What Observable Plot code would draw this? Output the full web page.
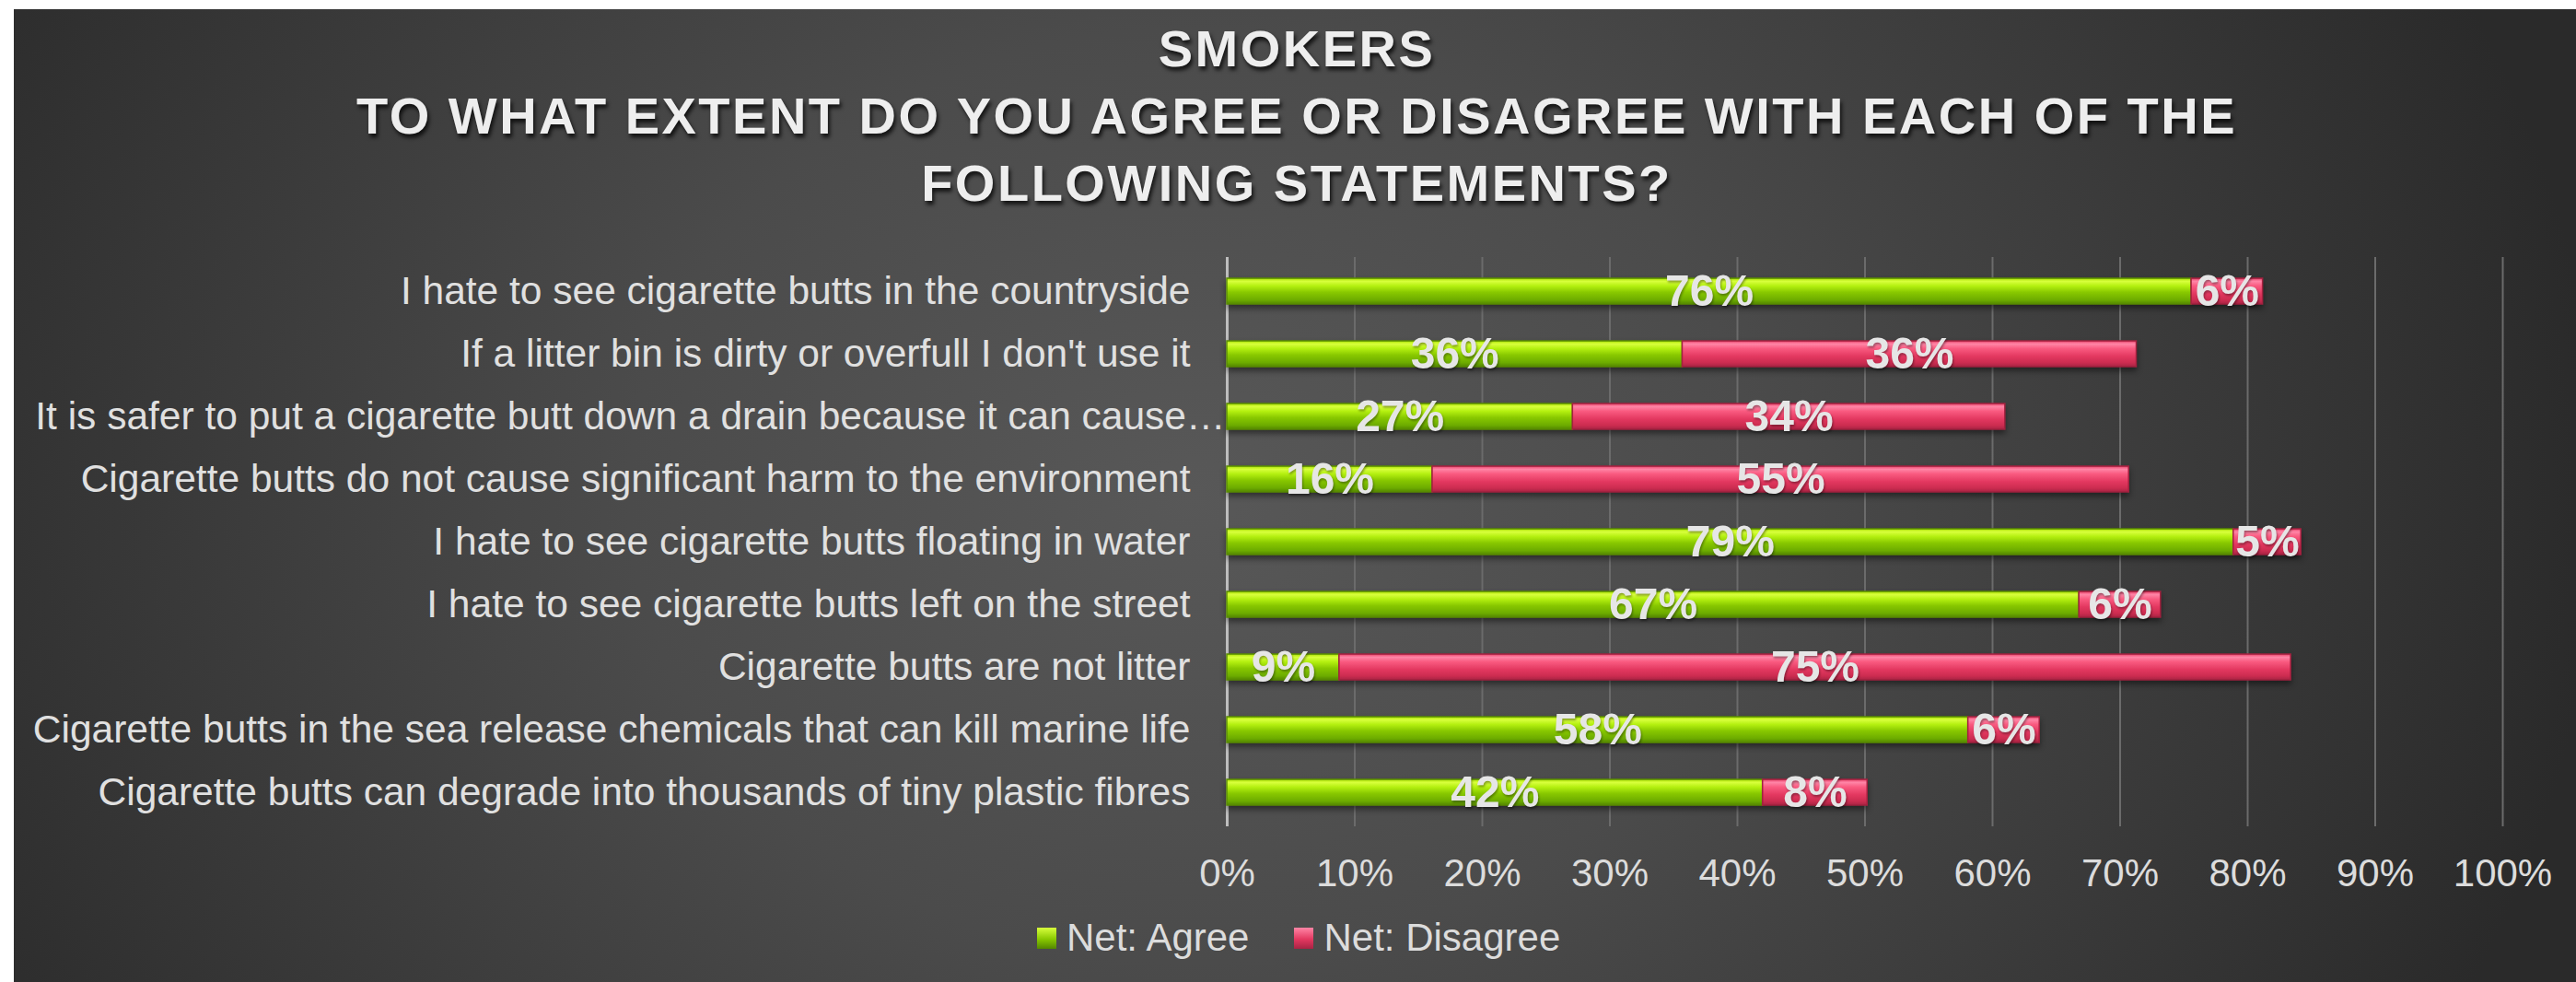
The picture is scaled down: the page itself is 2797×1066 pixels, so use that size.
<!DOCTYPE html>
<html>
<head>
<meta charset="utf-8">
<script src="https://cdn.jsdelivr.net/npm/d3@7"></script>
<script src="https://cdn.jsdelivr.net/npm/@observablehq/plot@0.6"></script>
<style>
  html, body { margin: 0; padding: 0; width: 2797px; height: 1066px; overflow: hidden; background: #ffffff; }
  #bg { position: absolute; left: 15px; top: 10px; width: 2782px; height: 1056px;
        background: radial-gradient(ellipse 55% 120% at 46% 50%, #585858 0%, #4b4b4b 40%, #2a2a2a 100%); }
  #title { position: absolute; left: 0; top: 16px; width: 2816px; text-align: center;
           font-family: "Liberation Sans", Arial, sans-serif; font-weight: bold; font-size: 56px;
           letter-spacing: 2.5px; line-height: 73px; color: #eeeeee;
           text-shadow: 2px 4px 4px rgba(0,0,0,0.75); }
  #chart { position: absolute; left: 0; top: 230px; }
  #chart svg g[aria-label="bar"] { filter: drop-shadow(0px 4px 3px rgba(0,0,0,0.45)); }
  #chart svg g[aria-label="text"] { filter: drop-shadow(1px 2px 1px rgba(0,0,0,0.35)); }
  #legend { position: absolute; left: 1126px; top: 994px; display: flex; align-items: center;
            font-family: "Liberation Sans", Arial, sans-serif; font-size: 42px; color: #dcdcdc; }
  #legend .item { display: flex; align-items: center; margin-right: 49px; }
  #legend .sw { width: 21px; height: 23px; margin-right: 11px; }
</style>
</head>
<body>
<div id="bg"></div>
<div id="title">SMOKERS<br>TO WHAT EXTENT DO YOU AGREE OR DISAGREE WITH EACH OF THE<br>FOLLOWING STATEMENTS?</div>
<div id="chart"></div>
<div id="legend"></div>
<script>
const questions = [
  "I hate to see cigarette butts in the countryside",
  "If a litter bin is dirty or overfull I don't use it",
  "It is safer to put a cigarette butt down a drain because it can cause…",
  "Cigarette butts do not cause significant harm to the environment",
  "I hate to see cigarette butts floating in water",
  "I hate to see cigarette butts left on the street",
  "Cigarette butts are not litter",
  "Cigarette butts in the sea release chemicals that can kill marine life",
  "Cigarette butts can degrade into thousands of tiny plastic fibres"
];
const truncatedQuestion = questions[2];
const seriesNames = ["Net: Agree", "Net: Disagree"];
// values (labels show them rounded)
const agree = [75.6, 35.7, 27.1, 16.1, 78.9, 66.8, 8.8, 58.1, 42.0];
const disagree = [5.6, 35.6, 33.9, 54.6, 5.3, 6.4, 74.6, 5.6, 8.2];
const xTicks = [0, 10, 20, 30, 40, 50, 60, 70, 80, 90, 100];

const data = [];
questions.forEach((q, i) => {
  data.push({q, series: seriesNames[0], value: agree[i]});
  data.push({q, series: seriesNames[1], value: disagree[i]});
});

const chart = Plot.plot({
  width: 2797,
  height: 742,
  marginLeft: 1332,
  marginRight: 80,
  marginTop: 49,
  marginBottom: 75,
  style: {
    background: "transparent",
    color: "#dcdcdc",
    fontFamily: "'Liberation Sans', Arial, sans-serif",
    fontSize: "42px",
    overflow: "visible"
  },
  x: {domain: [0, 100], label: null},
  y: {domain: questions, paddingInner: 0.59, paddingOuter: 0.295, label: null},
  color: {domain: seriesNames, range: ["url(#gAgree)", "url(#gDisagree)"]},
  marks: [
    Plot.gridX(xTicks.slice(1), {stroke: "#6b6b6b", strokeOpacity: 1, strokeWidth: 2}),
    Plot.ruleX([0], {stroke: "#bdbdbd", strokeWidth: 3}),
    Plot.barX(data, Plot.stackX({
      y: "q", x: "value", fill: "series",
      stroke: d => d.series === seriesNames[0] ? "#5a8c00" : "#a3213f",
      strokeWidth: 1.5
    })),
    Plot.text(data, Plot.stackX({
      y: "q", x: "value", z: "series",
      text: d => Math.round(d.value) + "%",
      fill: "#e6e6e6", fontSize: 48, fontWeight: "bold"
    })),
    Plot.axisX(xTicks, {tickSize: 0, tickPadding: 35, tickFormat: d => d + "%", fontSize: 42, fill: "#dcdcdc", label: null}),
    Plot.axisY(questions.filter(q => q !== truncatedQuestion), {tickSize: 0, tickPadding: 40, fontSize: 42.5, fill: "#e0e0e0", label: null}),
    Plot.axisY([truncatedQuestion], {tickSize: 0, tickPadding: 2, fontSize: 42.5, fill: "#e0e0e0", label: null})
  ]
});

// gradient definitions for the bevelled bars
const defs = `
<defs>
  <linearGradient id="gAgree" x1="0" y1="0" x2="0" y2="1">
    <stop offset="0" stop-color="#a8e000"/>
    <stop offset="0.12" stop-color="#d8ff3c"/>
    <stop offset="0.3" stop-color="#b4f010"/>
    <stop offset="0.55" stop-color="#88c800"/>
    <stop offset="0.85" stop-color="#6cab00"/>
    <stop offset="1" stop-color="#538600"/>
  </linearGradient>
  <linearGradient id="gDisagree" x1="0" y1="0" x2="0" y2="1">
    <stop offset="0" stop-color="#e84068"/>
    <stop offset="0.12" stop-color="#ff85a6"/>
    <stop offset="0.3" stop-color="#f95a80"/>
    <stop offset="0.6" stop-color="#e33860"/>
    <stop offset="0.85" stop-color="#cc2c50"/>
    <stop offset="1" stop-color="#a82444"/>
  </linearGradient>
</defs>`;
chart.insertAdjacentHTML("afterbegin", defs);
document.getElementById("chart").appendChild(chart);

// legend
const legendCss = {"Net: Agree": "linear-gradient(#d8ff3c, #88c800 55%, #538600)", "Net: Disagree": "linear-gradient(#ff85a6, #e33860 55%, #a82444)"};
const legend = document.getElementById("legend");
seriesNames.forEach(s => {
  const item = document.createElement("div");
  item.className = "item";
  const sw = document.createElement("div");
  sw.className = "sw";
  sw.style.background = legendCss[s];
  const label = document.createElement("span");
  label.textContent = s;
  item.appendChild(sw);
  item.appendChild(label);
  legend.appendChild(item);
});
</script>
</body>
</html>
